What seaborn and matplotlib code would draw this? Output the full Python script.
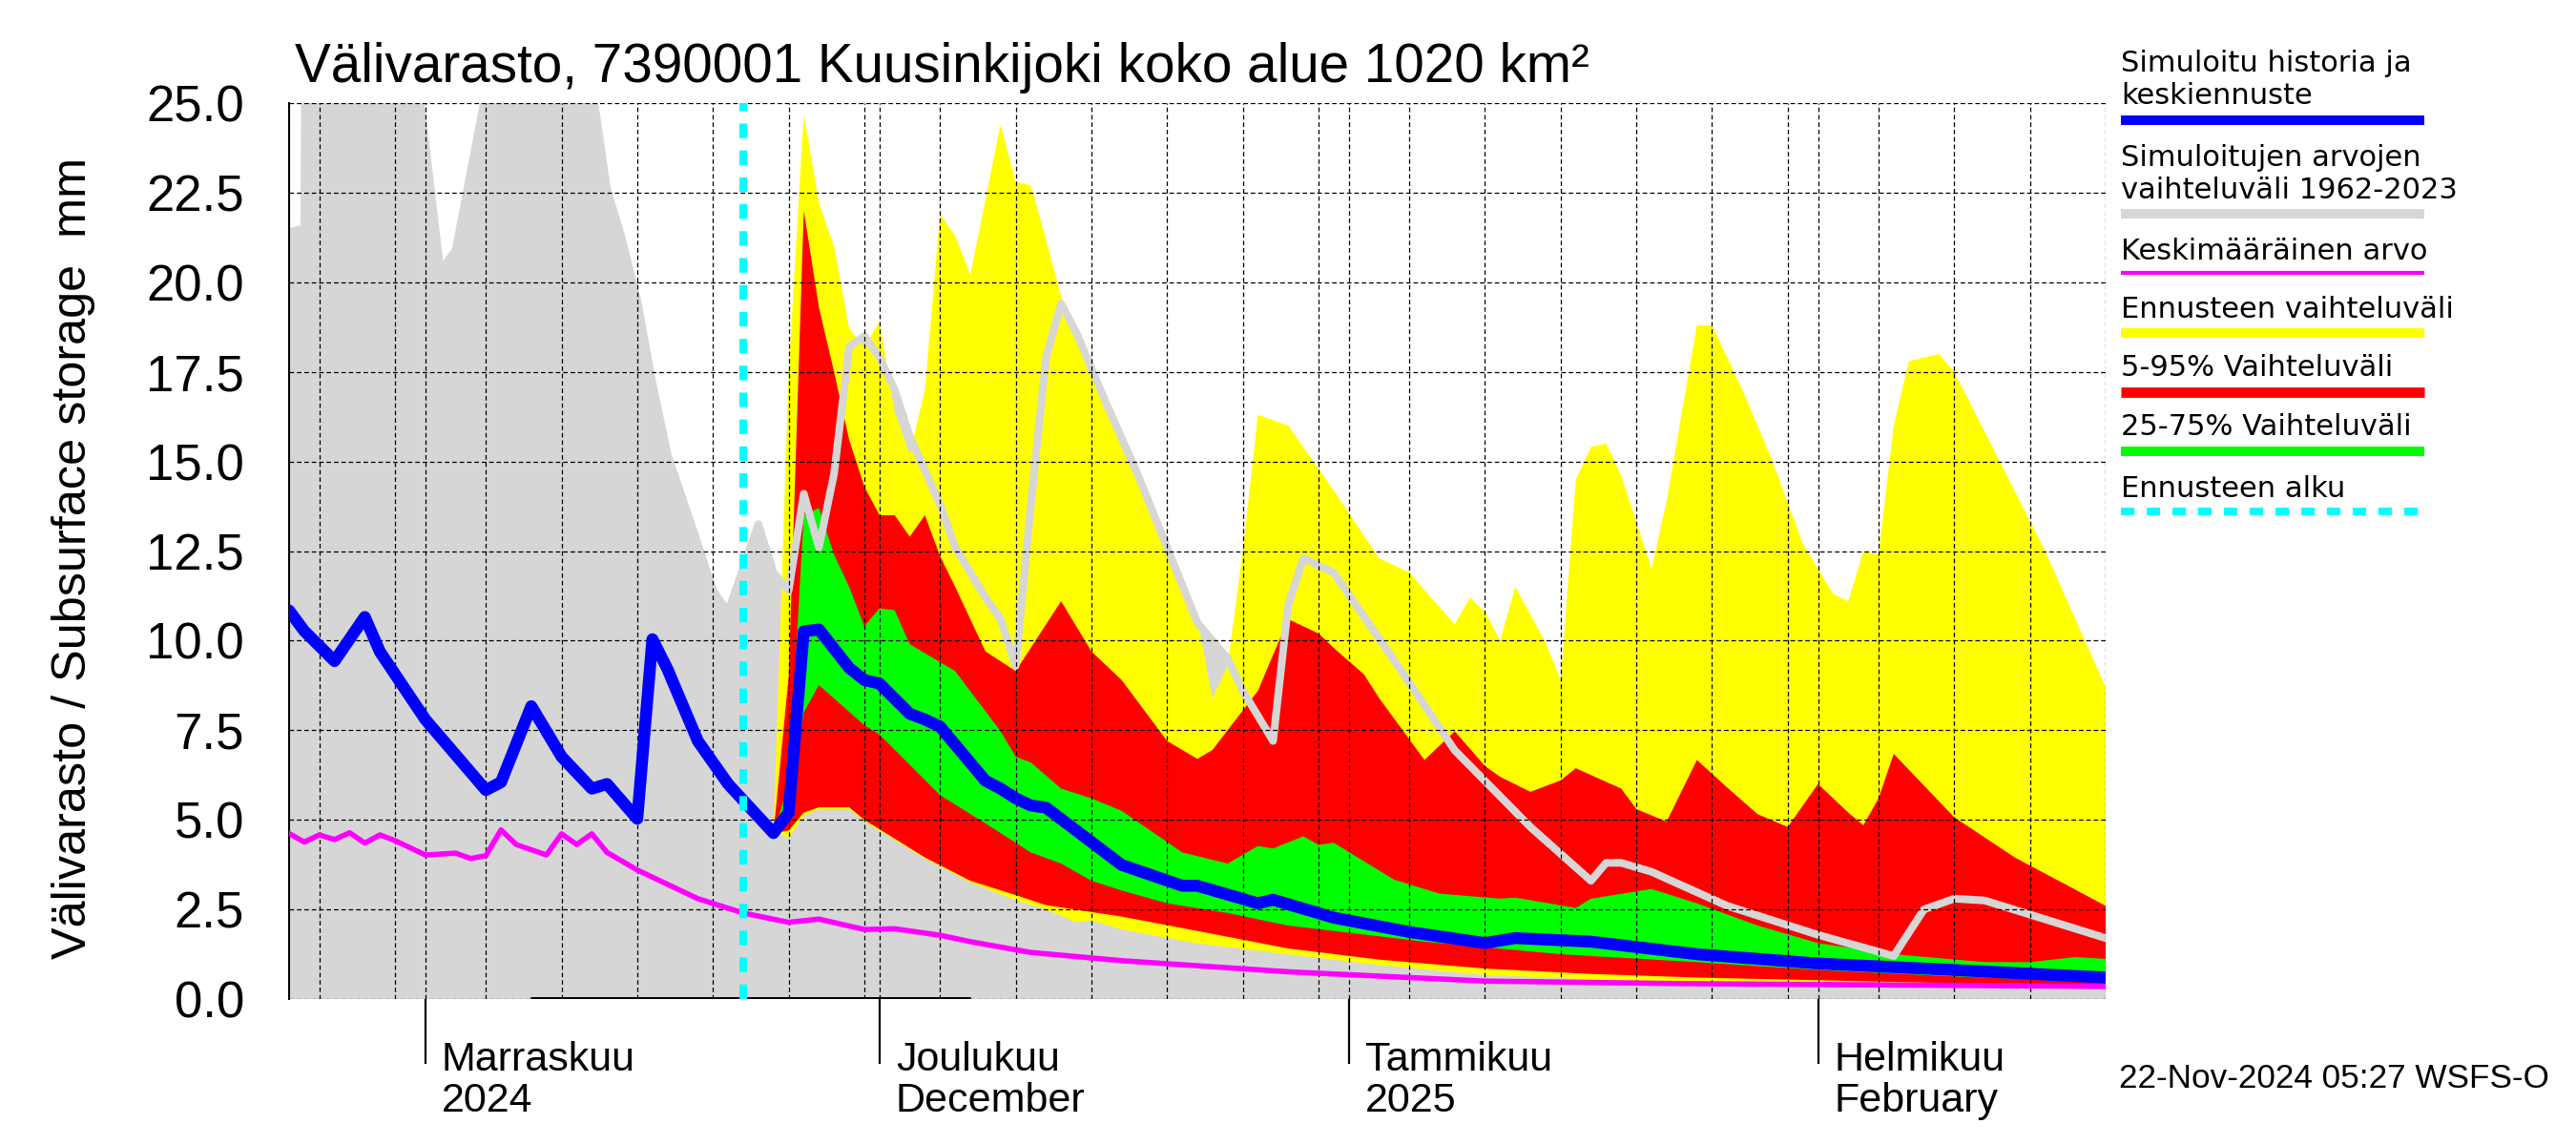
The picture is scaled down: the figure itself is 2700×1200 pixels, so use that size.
import numpy as np
import pandas as pd
import matplotlib
matplotlib.use('Agg')
import matplotlib.pyplot as plt
import matplotlib.dates as mdates
import matplotlib.transforms as mtransforms
from matplotlib.lines import Line2D
import seaborn as sns

# day 0 = 23 Oct 2024
start = pd.Timestamp('2024-10-23')
forecast_start = '2024-11-22'
end_day = 120

# grey: simulated range 1962-2023 (upper edge, drawn also as a line)
hist_days = [0, 1, 1.1, 8, 10, 11, 13, 14, 19, 20, 21, 22, 23, 24, 25, 27, 28, 29, 31, 32,
             33, 34, 35, 36, 37, 38, 39, 40, 41, 43, 44, 46, 47, 48, 49, 50, 51, 52, 54, 56,
             58, 60, 62, 63, 65, 66, 67, 69, 73, 77, 82, 86, 87, 88, 90, 95, 101, 106, 108, 110,
             112, 120]
hist_vals = [21.4, 21.5, 29, 27.5, 20.3, 20.9, 25.3, 27, 27, 25.5, 22.6, 21.2, 19.5, 17.2, 15.2, 12.7, 11.4, 10.8, 13.25, 11.9,
             11.4, 14.1, 12.6, 14.66, 18.2, 18.5, 17.9, 17.0, 15.7, 13.8, 12.6, 11.2, 10.6, 9.3, 13.8, 17.9, 19.4, 18.6, 16.6, 14.7,
             12.6, 10.5, 9.5, 8.6, 7.2, 11.0, 12.3, 11.9, 9.45, 6.94, 4.8, 3.3, 3.8, 3.8, 3.55, 2.6, 1.79, 1.2, 2.5, 2.8,
             2.75, 1.7]
hist_min_days = [0, 120]
hist_min_vals = [0.0, 0.0]
low_days = [16, 45]
low_vals = [0.03, 0.03]

# blue: simulated history and median forecast
blue_days = [0, 1, 3, 5, 6, 9, 13, 14, 16, 18, 20, 21, 23, 24, 25, 27, 29, 32, 33, 34,
             35, 37, 38, 39, 41, 42, 43, 46, 47, 48, 49, 50, 55, 59, 60, 64, 65, 69, 74, 79,
             81, 86, 93, 101, 110, 120]
blue_vals = [10.84, 10.27, 9.43, 10.66, 9.69, 7.8, 5.83, 6.05, 8.17, 6.76, 5.87, 6.0, 5.03, 10.04, 9.2, 7.2, 6.0, 4.63, 5.2, 10.26,
             10.31, 9.24, 8.9, 8.8, 7.96, 7.8, 7.6, 6.09, 5.87, 5.6, 5.4, 5.34, 3.74, 3.16, 3.16, 2.67, 2.77, 2.27, 1.87, 1.56,
             1.70, 1.60, 1.25, 0.99, 0.81, 0.60]

# magenta: mean value
mean_days = [0, 1, 2, 3, 4, 5, 6, 7, 9, 11, 12, 13, 14, 15, 17, 18, 19, 20, 21, 23,
             25, 27, 30, 33, 35, 38, 40, 43, 45, 49, 55, 66, 79, 92, 110, 120]
mean_vals = [4.62, 4.38, 4.58, 4.45, 4.64, 4.35, 4.58, 4.42, 4.02, 4.07, 3.92, 4.0, 4.72, 4.31, 4.02, 4.61, 4.31, 4.61, 4.09, 3.6,
             3.2, 2.8, 2.4, 2.14, 2.23, 1.94, 1.96, 1.78, 1.6, 1.3, 1.07, 0.76, 0.5, 0.43, 0.38, 0.35]

# yellow: forecast range
ymax_days = [32, 33, 34, 35, 36, 37, 38, 39, 40, 41, 42, 43, 44, 45, 46, 47, 48, 49, 50, 51,
             52, 54, 56, 58, 60, 61, 62, 63, 64, 66, 67, 69, 72, 74, 77, 78, 79, 80, 81, 83,
             84, 85, 86, 87, 88, 89, 90, 91, 93, 94, 96, 98, 100, 102, 103, 104, 105, 106, 107, 109,
             110, 116, 120]
ymax_vals = [4.63, 17.5, 24.7, 22.2, 21.0, 18.7, 18.2, 18.9, 16.4, 15.2, 17.0, 21.9, 21.3, 20.2, 22.3, 24.4, 22.8, 22.7, 21.2, 19.6,
             18.6, 16.6, 14.7, 12.6, 10.6, 8.4, 9.3, 12.5, 16.3, 16.0, 15.4, 14.2, 12.3, 11.9, 10.45, 11.2, 10.8, 10.0, 11.5, 9.95,
             8.9, 14.5, 15.4, 15.5, 14.6, 13.3, 12.0, 13.9, 18.8, 18.8, 17.0, 15.0, 12.7, 11.3, 11.1, 12.5, 12.4, 16.0, 17.8, 18.0,
             17.5, 12.5, 8.7]
ymin_days = [32, 33, 34, 35, 37, 38, 42, 45, 48, 50, 52, 53, 55, 60, 66, 72, 79, 86, 93, 110, 120]
ymin_vals = [4.63, 4.5, 5.1, 5.3, 5.3, 4.95, 3.92, 3.25, 2.75, 2.5, 2.14, 2.2, 1.94, 1.55, 1.25, 0.95, 0.67, 0.55, 0.46, 0.4, 0.37]

# red: 5-95 %
rmax_days = [32, 33, 34, 35, 36, 37, 38, 39, 40, 41, 42, 43, 44, 45, 46, 48, 51, 53, 55, 58,
             60, 61, 64, 66, 68, 69, 71, 72, 75, 77, 79, 80, 82, 84, 85, 88, 89, 91, 93, 95,
             97, 99, 101, 103, 104, 105, 106, 110, 114, 120]
rmax_vals = [4.63, 9.0, 22.0, 19.3, 17.5, 15.6, 14.3, 13.5, 13.5, 12.9, 13.5, 12.36, 11.5, 10.6, 9.7, 9.15, 11.1, 9.7, 8.9, 7.2,
             6.7, 6.95, 8.6, 10.6, 10.2, 9.8, 9.06, 8.4, 6.67, 7.47, 6.5, 6.2, 5.78, 6.1, 6.44, 5.87, 5.3, 4.95, 6.67, 5.9,
             5.16, 4.8, 6.0, 5.2, 4.85, 5.6, 6.84, 5.07, 3.95, 2.6]
rmin_days = [32, 33, 34, 35, 37, 38, 42, 45, 48, 50, 55, 60, 66, 72, 79, 86, 93, 110, 120]
rmin_vals = [4.63, 4.7, 5.2, 5.35, 5.35, 5.0, 3.95, 3.3, 2.9, 2.62, 2.3, 1.9, 1.41, 1.1, 0.85, 0.7, 0.6, 0.44, 0.41]

# green: 25-75 %
gmax_days = [32, 33, 34, 35, 36, 37, 38, 39, 40, 41, 44, 47, 48, 49, 51, 53, 55, 59, 62, 64,
             65, 67, 68, 69, 73, 76, 80, 81, 85, 86, 90, 93, 97, 101, 106, 112, 115, 118, 120]
gmax_vals = [4.63, 6.0, 13.5, 13.7, 12.4, 11.5, 10.4, 10.9, 10.85, 9.9, 9.15, 7.47, 6.76, 6.6, 5.87, 5.6, 5.25, 4.09, 3.78, 4.27,
             4.2, 4.54, 4.3, 4.36, 3.33, 2.94, 2.8, 2.83, 2.54, 2.8, 3.07, 2.67, 2.05, 1.56, 1.25, 1.03, 1.03, 1.17, 1.12]
gmin_days = [32, 33, 34, 35, 38, 39, 43, 46, 49, 51, 53, 55, 58, 62, 66, 75, 84, 93, 101, 110, 120]
gmin_vals = [4.63, 5.0, 8.0, 8.76, 7.64, 7.38, 5.69, 4.9, 4.09, 3.78, 3.3, 3.03, 2.67, 2.4, 2.05, 1.6, 1.25, 1.03, 0.81, 0.63, 0.47]

y_ticks = [0, 2.5, 5, 7.5, 10, 12.5, 15, 17.5, 20, 22.5, 25]
month_dates = ['2024-11-01', '2024-12-01', '2025-01-01', '2025-02-01']
month_fi = ['Marraskuu', 'Joulukuu', 'Tammikuu', 'Helmikuu']
month_sub = ['2024', 'December', '2025', 'February']

legend_labels = ['Simuloitu historia ja\nkeskiennuste', 'Simuloitujen arvojen\nvaihteluväli 1962-2023',
                 'Keskimääräinen arvo', 'Ennusteen vaihteluväli', '5-95% Vaihteluväli',
                 '25-75% Vaihteluväli', 'Ennusteen alku']

title = 'Välivarasto, 7390001 Kuusinkijoki koko alue 1020 km²'
ylabel = 'Välivarasto / Subsurface storage  mm'
stamp = '22-Nov-2024 05:27 WSFS-O'

BLUE, GREY, MAG = '#0000ff', '#d6d6d6', '#ff00ff'
YEL, RED, GRN, CYAN = '#ffff00', '#ff0000', '#00ff00', '#00ffff'


def to_dates(days):
    return (start + pd.to_timedelta(np.asarray(days, dtype=float), unit='D')).to_numpy()


def band(ax, up_d, up_v, lo_d, lo_v, color, z):
    xs = np.concatenate([to_dates(up_d), to_dates(lo_d)[::-1]])
    ys = np.concatenate([np.asarray(up_v), np.asarray(lo_v)[::-1]])
    ax.fill(xs, ys, color=color, lw=0, zorder=z)


sns.set_style('white')
plt.rcParams['font.family'] = ['Liberation Sans', 'DejaVu Sans']
plt.rcParams['text.color'] = 'black'

W, H = 2700, 1200
fig = plt.figure(figsize=(W / 100, H / 100), dpi=100)
ax = fig.add_axes([303 / W, 1 - 1047 / H, (2207 - 303) / W, (1047 - 108) / H])

band(ax, hist_days, hist_vals, hist_min_days, hist_min_vals, GREY, 1.0)
band(ax, ymax_days, ymax_vals, ymin_days, ymin_vals, YEL, 1.1)
band(ax, rmax_days, rmax_vals, rmin_days, rmin_vals, RED, 1.2)
band(ax, gmax_days, gmax_vals, gmin_days, gmin_vals, GRN, 1.3)

sns.lineplot(x=to_dates(hist_days), y=hist_vals, ax=ax, color=GREY, linewidth=5.8,
             estimator=None, legend=False, zorder=2)
sns.lineplot(x=to_dates(low_days), y=low_vals, ax=ax, color='black', linewidth=1.4,
             estimator=None, legend=False, zorder=3)
sns.lineplot(x=to_dates(mean_days), y=mean_vals, ax=ax, color=MAG, linewidth=4,
             estimator=None, legend=False, zorder=3)
sns.lineplot(x=to_dates(blue_days), y=blue_vals, ax=ax, color=BLUE, linewidth=9,
             estimator=None, legend=False, zorder=3.2)
ax.axvline(pd.Timestamp(forecast_start), color=CYAN, lw=5.8, dashes=(1.9, 1.6), zorder=4)

ax.set_xlim(start, start + pd.Timedelta(days=end_day))
ax.set_ylim(0, 25)
ax.set_xlabel('')
ax.set_ylabel('')

ax.set_yticks(y_ticks)
ax.set_yticklabels([f'{v:.1f}' for v in y_ticks], fontsize=38, color='black')
ax.tick_params(axis='y', direction='in', length=32, width=1.5, pad=34, colors='black')

ax.xaxis.set_major_locator(mdates.DayLocator(bymonthday=[1, 5, 10, 15, 20, 25, 30]))
ax.xaxis.set_minor_locator(mdates.DayLocator())
ax.xaxis.set_major_formatter(plt.NullFormatter())
ax.tick_params(axis='x', which='major', direction='out', length=24, width=1.4, colors='black')
ax.tick_params(axis='x', which='minor', direction='out', length=6, width=1.2, colors='black')

ax.set_axisbelow(False)
ax.grid(True, which='major', color='black', lw=0.9, linestyle=(0, (3.8, 2.4)))

for s in ['top', 'right', 'bottom']:
    ax.spines[s].set_visible(False)
ax.spines['left'].set_color('black')
ax.spines['left'].set_linewidth(1.5)

xtr = ax.get_xaxis_transform()
md = pd.to_datetime(month_dates)
ax.vlines(md, -0.0724, 0, transform=xtr, color='black', lw=1.6, clip_on=False)
lab_tr = mtransforms.offset_copy(xtr, fig=fig, x=17, y=0, units='dots')
for d, a, b in zip(md, month_fi, month_sub):
    ax.text(d, (1047 - 1122) / 939, a, transform=lab_tr, ha='left', va='baseline', fontsize=31)
    ax.text(d, (1047 - 1165) / 939, b, transform=lab_tr, ha='left', va='baseline', fontsize=31)

fig.text(309 / W, 1 - 86 / H, title, fontsize=40.8, ha='left', va='baseline')
fig.text(77 / W, 1 - 585 / H, ylabel, fontsize=36.3, rotation=90, ha='center', va='center')
fig.text(2221 / W, 1 - 1140 / H, stamp, fontsize=25.3, ha='left', va='baseline')

# legend on the right: text above a sample bar
text_y = [83.5, 182.5, 263, 325, 386, 448, 512]
bar_y = [126, 224, 286, 349, 411, 473, 536]
bar_c = [BLUE, GREY, MAG, YEL, RED, GRN, CYAN]
bar_w = [7.2, 7.2, 3.0, 7.2, 7.8, 7.2, 5.8]
for lab, ty, by, c, w in zip(legend_labels, text_y, bar_y, bar_c, bar_w):
    fig.text(2223 / W, 1 - ty / H, lab, fontsize=22, family='DejaVu Sans',
             ha='left', va='center', linespacing=1.2)
    kw = dict(dashes=(1.75, 1.6)) if c == CYAN else {}
    fig.add_artist(Line2D([2223 / W, 2541 / W], [1 - by / H, 1 - by / H], color=c, lw=w,
                          solid_capstyle='butt', dash_capstyle='butt', transform=fig.transFigure, **kw))

fig.savefig('out.png', dpi=100)
